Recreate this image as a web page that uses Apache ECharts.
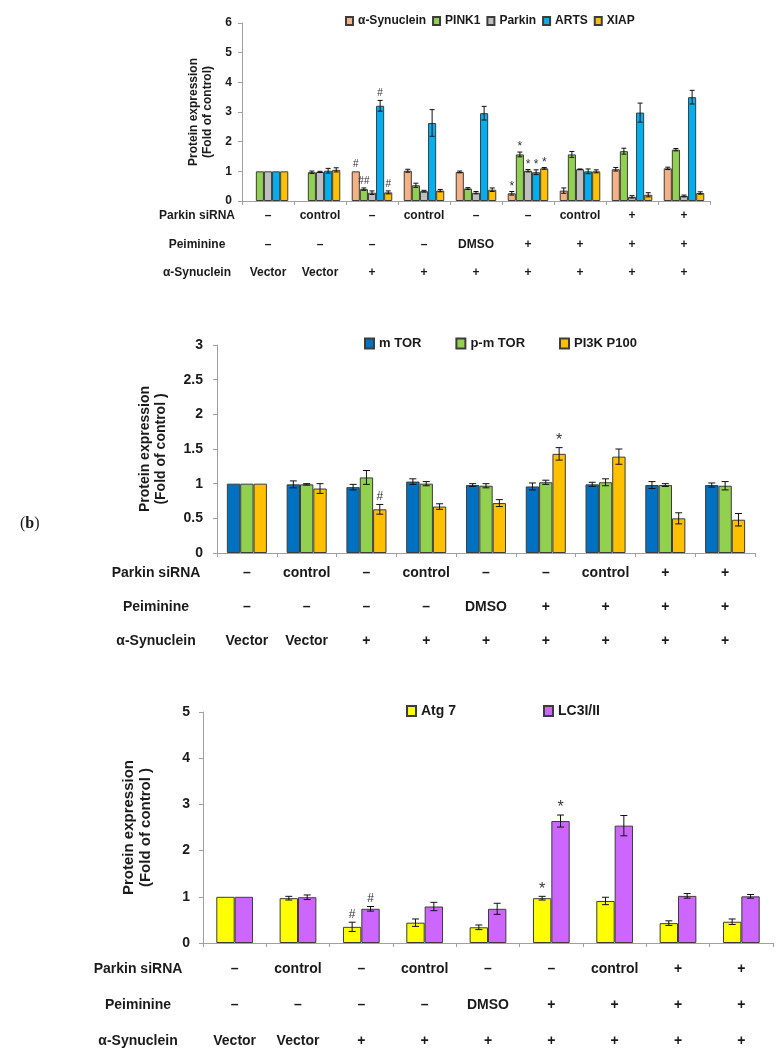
<!DOCTYPE html>
<html>
<head>
<meta charset="utf-8">
<script src="https://cdn.jsdelivr.net/npm/echarts@6/dist/echarts.min.js"></script>
<style>
  html, body { margin: 0; padding: 0; background: #fff; }
  #chart { width: 782px; height: 1062px; }
</style>
</head>
<body>
<div id="chart"></div>
<script>
'use strict';

// treatment rows under every panel
var rowTitles = ['Parkin siRNA', 'Peiminine', 'α-Synuclein'];
var parkinRow = ['–', 'control', '–', 'control', '–', '–', 'control', '+', '+'];
var peiminineRow = ['–', '–', '–', '–', 'DMSO', '+', '+', '+', '+'];
var synucleinRow = ['Vector', 'Vector', '+', '+', '+', '+', '+', '+', '+'];
var groupIds = ['g1', 'g2', 'g3', 'g4', 'g5', 'g6', 'g7', 'g8', 'g9'];

// panel 1
var names1 = ['α-Synuclein', 'PINK1', 'Parkin', 'ARTS', 'XIAP'];
var colors1 = ['#F4B183', '#92D050', '#BFBFBF', '#00B0F0', '#FFC000'];
var synuclein1 = [null, null, 1.00, 1.02, 0.98, 0.26, 0.35, 1.07, 1.10];
var synuclein1Err = [0, 0, 0, 0.05, 0.03, 0.06, 0.09, 0.06, 0.04];
var synuclein1Mark = ['', '', '#', '', '', '*', '', '', ''];
var pink1 = [1, 0.97, 0.40, 0.53, 0.42, 1.57, 1.57, 1.68, 1.73];
var pink1Err = [0, 0.04, 0.04, 0.07, 0.03, 0.08, 0.10, 0.10, 0.04];
var pink1Mark = ['', '', '##', '', '', '*', '', '', ''];
var parkin = [1, 0.98, 0.28, 0.33, 0.28, 1.02, 1.07, 0.14, 0.17];
var parkinErr = [0, 0.02, 0.06, 0.03, 0.04, 0.04, 0.01, 0.04, 0.03];
var parkinMark = ['', '', '', '', '', '*', '', '', ''];
var arts = [1, 1.02, 3.21, 2.63, 2.96, 0.97, 1.00, 2.98, 3.50];
var artsErr = [0, 0.08, 0.18, 0.45, 0.23, 0.08, 0.08, 0.32, 0.23];
var artsMark = ['', '', '#', '', '', '*', '', '', ''];
var xiap = [1, 1.05, 0.29, 0.35, 0.38, 1.10, 1.00, 0.21, 0.27];
var xiapErr = [0, 0.07, 0.05, 0.04, 0.06, 0.03, 0.05, 0.07, 0.04];
var xiapMark = ['', '', '#', '', '', '*', '', '', ''];

// panel 2
var names2 = ['m TOR', 'p-m TOR', 'PI3K P100'];
var colors2 = ['#0070C0', '#92D050', '#FFC000'];
var mtor = [1, 0.99, 0.95, 1.03, 0.98, 0.96, 0.99, 0.98, 0.98];
var mtorErr = [0, 0.05, 0.04, 0.04, 0.02, 0.05, 0.03, 0.05, 0.03];
var pmtor = [1, 0.99, 1.09, 1.00, 0.97, 1.02, 1.02, 0.98, 0.97];
var pmtorErr = [0, 0.01, 0.10, 0.03, 0.03, 0.03, 0.05, 0.02, 0.06];
var pi3k = [1, 0.93, 0.63, 0.67, 0.72, 1.43, 1.39, 0.50, 0.48];
var pi3kErr = [0, 0.07, 0.07, 0.04, 0.05, 0.09, 0.11, 0.08, 0.09];
var noMark = ['', '', '', '', '', '', '', '', ''];
var pi3kMark = ['', '', '#', '', '', '*', '', '', ''];

// panel 3
var names3 = ['Atg 7', 'LC3I/II'];
var colors3 = ['#FFFF00', '#CC66FF'];
var atg7 = [1, 0.97, 0.35, 0.44, 0.34, 0.97, 0.91, 0.43, 0.46];
var atg7Err = [0, 0.04, 0.10, 0.08, 0.05, 0.04, 0.08, 0.05, 0.06];
var atg7Mark = ['', '', '#', '', '', '*', '', '', ''];
var lc3 = [1, 0.99, 0.74, 0.79, 0.74, 2.64, 2.54, 1.02, 1.01];
var lc3Err = [0, 0.05, 0.05, 0.09, 0.12, 0.13, 0.22, 0.05, 0.04];
var lc3Mark = ['', '', '#', '', '', '*', '', '', ''];

var FONT = "'Liberation Sans', Arial, sans-serif";
var INK = '#1a1a1a';
var AXIS = '#a0a0a0';

// layout of each panel
var panels = [
  { left: 242, top: 23, width: 468, height: 178, max: 6, step: 1, gap: 0.22, font: 12,
    labelMargin: 10, nameGap: 27, nameFont: 12, rowOffset: [0, 29, 57], rowMargin: 9, titleX: 197,
    legend: { left: 345, top: 15, w: 7, h: 8, gap: 6, font: 12 },
    yName: 'Protein expression\n(Fold of control)' },
  { left: 217, top: 345, width: 538, height: 208, max: 3, step: 0.5, gap: 0.33, font: 14,
    labelMargin: 14, nameGap: 48, nameFont: 14, rowOffset: [0, 34, 68], rowMargin: 13, titleX: 156,
    legend: { left: 364, top: 337, w: 9, h: 10, gap: 34, font: 13 },
    yName: 'Protein expression\n(Fold of control )' },
  { left: 203, top: 712, width: 570, height: 231, max: 5, step: 1, gap: 0.42, font: 14,
    labelMargin: 13, nameGap: 49, nameFont: 15, rowOffset: [0, 36, 72], rowMargin: 19, titleX: 138,
    legend: { left: 406, top: 704, w: 9, h: 10, gap: 87, font: 14 },
    yName: 'Protein expression\n(Fold of control )' }
];

var panelSeries = [
  { names: names1, colors: colors1,
    values: [synuclein1, pink1, parkin, arts, xiap],
    errs: [synuclein1Err, pink1Err, parkinErr, artsErr, xiapErr],
    marks: [synuclein1Mark, pink1Mark, parkinMark, artsMark, xiapMark],
    markFont: [10, 12], cap: 2.5 },
  { names: names2, colors: colors2,
    values: [mtor, pmtor, pi3k],
    errs: [mtorErr, pmtorErr, pi3kErr],
    marks: [noMark, noMark, pi3kMark],
    markFont: [12, 16], cap: 3.5 },
  { names: names3, colors: colors3,
    values: [atg7, lc3],
    errs: [atg7Err, lc3Err],
    marks: [atg7Mark, lc3Mark],
    markFont: [12, 16], cap: 3.5 }
];

var rows = [parkinRow, peiminineRow, synucleinRow];

var grids = [], xAxes = [], yAxes = [], legends = [], series = [], graphics = [];

panels.forEach(function (p, pi) {
  grids.push({ left: p.left, top: p.top, width: p.width, height: p.height });

  rows.forEach(function (row, ri) {
    xAxes.push({
      type: 'category', gridIndex: pi, data: groupIds, position: 'bottom',
      offset: p.rowOffset[ri],
      axisLine: { show: ri === 0, lineStyle: { color: AXIS, width: 1 } },
      axisTick: { show: ri === 0, length: 4, lineStyle: { color: AXIS } },
      axisLabel: {
        show: true, interval: 0, margin: p.rowMargin,
        fontFamily: FONT, fontWeight: 'bold', fontSize: p.font, color: INK,
        formatter: function (v, i) { return row[i]; }
      }
    });
    // row title left of the treatment labels
    graphics.push({
      type: 'text', x: p.titleX, y: p.top + p.height + p.rowOffset[ri] + p.rowMargin,
      style: { text: rowTitles[ri], font: 'bold ' + p.font + 'px ' + FONT, fill: INK,
               align: 'center', verticalAlign: 'top' }
    });
  });

  yAxes.push({
    type: 'value', gridIndex: pi, min: 0, max: p.max, interval: p.step,
    axisLine: { show: true, lineStyle: { color: AXIS, width: 1 } },
    axisTick: { show: true, length: 4, lineStyle: { color: AXIS } },
    splitLine: { show: false },
    axisLabel: { margin: p.labelMargin, fontFamily: FONT, fontWeight: 'bold', fontSize: p.font, color: INK },
    name: p.yName, nameLocation: 'middle', nameGap: p.nameGap,
    nameTextStyle: { fontFamily: FONT, fontWeight: 'bold', fontSize: p.nameFont,
                     lineHeight: p.nameFont + 2, color: INK }
  });

  var ps = panelSeries[pi];
  legends.push({
    data: ps.names, left: p.legend.left, top: p.legend.top, icon: 'rect', padding: 0,
    itemWidth: p.legend.w, itemHeight: p.legend.h, itemGap: p.legend.gap,
    selectedMode: false,
    textStyle: { fontFamily: FONT, fontWeight: 'bold', fontSize: p.legend.font, color: INK }
  });

  var n = ps.names.length;
  ps.names.forEach(function (name, si) {
    series.push({
      type: 'bar', name: name, xAxisIndex: pi * 3, yAxisIndex: pi,
      barGap: '0%', barCategoryGap: (p.gap * 100) + '%',
      itemStyle: { color: ps.colors[si], borderColor: '#3c3c3c', borderWidth: 1 },
      data: ps.values[si].map(function (v) { return v === null ? '-' : v; }),
      silent: true
    });
  });

  // error bars and significance marks
  ps.names.forEach(function (name, si) {
    var vals = ps.values[si], errs = ps.errs[si], marks = ps.marks[si];
    series.push({
      type: 'custom', xAxisIndex: pi * 3, yAxisIndex: pi, z: 5, silent: true,
      data: vals.map(function (v, g) {
        var y = v === null ? 0 : v;
        return [g, y, y + errs[g], y - errs[g]];
      }),
      encode: { x: 0, y: [1, 2, 3] },
      renderItem: function (params, api) {
        var k = params.dataIndex;
        if (vals[k] === null) return null;
        var band = api.size([1, 0])[0];
        var w = band * (1 - p.gap) / n;
        var c = api.coord([api.value(0), api.value(1)]);
        var x = c[0] - band * (1 - p.gap) / 2 + w * (si + 0.5);
        var top = api.coord([api.value(0), api.value(2)])[1];
        var bot = api.coord([api.value(0), api.value(3)])[1];
        var kids = [];
        var st = { stroke: '#111', lineWidth: 1 };
        if (errs[k] > 0) {
          kids.push({ type: 'line', shape: { x1: x, y1: top, x2: x, y2: bot }, style: st });
          kids.push({ type: 'line', shape: { x1: x - ps.cap, y1: top, x2: x + ps.cap, y2: top }, style: st });
          kids.push({ type: 'line', shape: { x1: x - ps.cap, y1: bot, x2: x + ps.cap, y2: bot }, style: st });
        }
        var m = marks[k];
        if (m) {
          var star = m.indexOf('*') >= 0;
          kids.push({ type: 'text', style: {
            text: m, x: x, y: top - (star ? -1 : 2), align: 'center', verticalAlign: 'bottom',
            font: (star ? ps.markFont[1] : ps.markFont[0]) + 'px ' + FONT, fill: '#333' } });
        }
        return { type: 'group', children: kids };
      }
    });
  });
});

graphics.push({
  type: 'text', x: 20, y: 516,
  style: { text: '{n|(}{b|b}{n|)}', rich: {
    n: { fontFamily: "'Liberation Serif', 'Times New Roman', serif", fontSize: 16, fill: INK },
    b: { fontFamily: "'Liberation Serif', 'Times New Roman', serif", fontSize: 16, fontWeight: 'bold', fill: INK } } }
});

var chart = echarts.init(document.getElementById('chart'), null, { renderer: 'canvas' });
chart.setOption({
  backgroundColor: '#fff',
  animation: false,
  grid: grids,
  xAxis: xAxes,
  yAxis: yAxes,
  legend: legends,
  graphic: graphics,
  series: series
});
</script>
</body>
</html>
